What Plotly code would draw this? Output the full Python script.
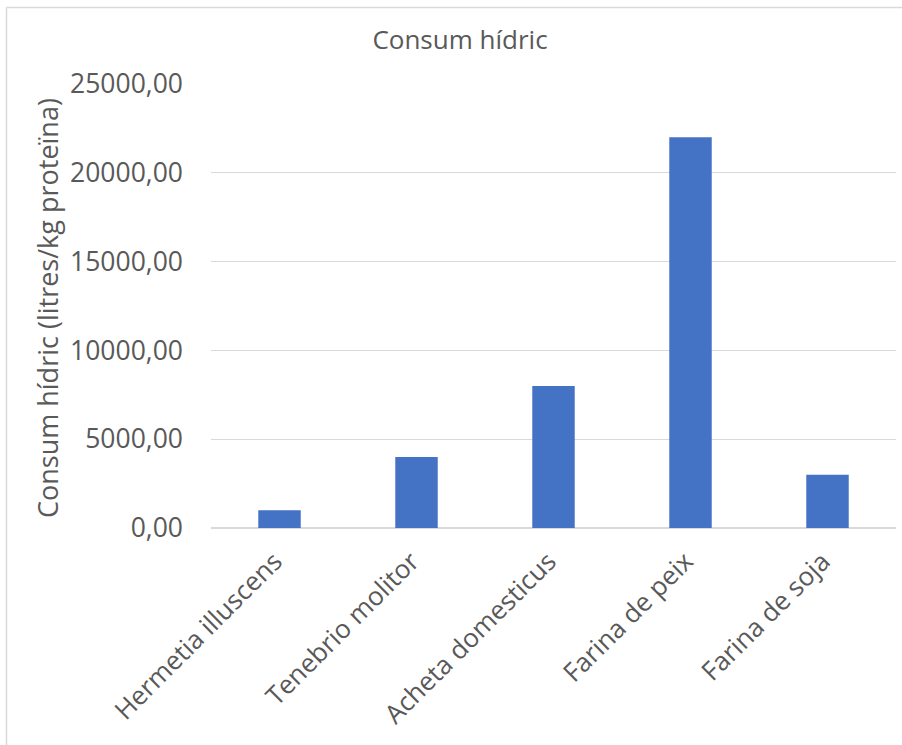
import plotly.graph_objects as go

categories = ["Hermetia illuscens", "Tenebrio molitor", "Acheta domesticus", "Farina de peix", "Farina de soja"]
values = [1000, 4000, 8000, 22000, 3000]
tick_vals = [0, 5000, 10000, 15000, 20000, 25000]
tick_text = ["0,00", "5000,00", "10000,00", "15000,00", "20000,00", "25000,00"]

W, H = 902, 745
L, R, T, B = 211, 6, 84, 217
pw, ph = W - L - R, H - T - B

font_color = "#595959"
fam = "Open Sans"

fig = go.Figure()
fig.add_trace(go.Bar(x=categories, y=values, marker_color="#4472C4", width=0.31,
                     marker_line_width=0))

def px_x(p):
    return (p - L) / pw

def px_y(p):
    return (H - B - p) / ph

fig.update_layout(
    width=W, height=H,
    margin=dict(l=L, r=R, t=T, b=B),
    paper_bgcolor="white", plot_bgcolor="white",
    font=dict(family=fam, color=font_color, size=26),
    showlegend=False,
    title=dict(text="Consum hídric", x=460 / W, xanchor="center",
               y=1 - 40 / H, yanchor="middle",
               font=dict(family=fam, size=26, color=font_color)),
    xaxis=dict(tickangle=-45, showgrid=False, showline=False, ticks="",
               ticklabelstandoff=12, ticklabelshift=-5,
               tickfont=dict(family=fam, size=26, color=font_color)),
    yaxis=dict(range=[0, 25000], tickvals=tick_vals, ticktext=tick_text,
               showgrid=True, gridcolor="#D9D9D9", gridwidth=1,
               zeroline=True, zerolinecolor="#D9D9D9", zerolinewidth=1.5,
               showline=False, ticks="", ticklabelstandoff=27,
               tickfont=dict(family=fam, size=26.5, color=font_color)),
    bargap=0.69,
)

fig.add_annotation(text="Consum hídric (litres/kg proteïna)", textangle=-90,
                   xref="paper", yref="paper", x=px_x(47), y=px_y(308),
                   xanchor="center", yanchor="middle", showarrow=False,
                   font=dict(family=fam, size=27, color=font_color))

# chart border (top and left)
fig.add_shape(type="line", xref="paper", yref="paper",
              x0=px_x(6.5), x1=px_x(W + 5), y0=px_y(7.5), y1=px_y(7.5),
              line=dict(color="#D9D9D9", width=1.5))
fig.add_shape(type="line", xref="paper", yref="paper",
              x0=px_x(6.5), x1=px_x(6.5), y0=px_y(7.5), y1=px_y(H + 5),
              line=dict(color="#D9D9D9", width=1.5))

fig.write_html("out.html")
